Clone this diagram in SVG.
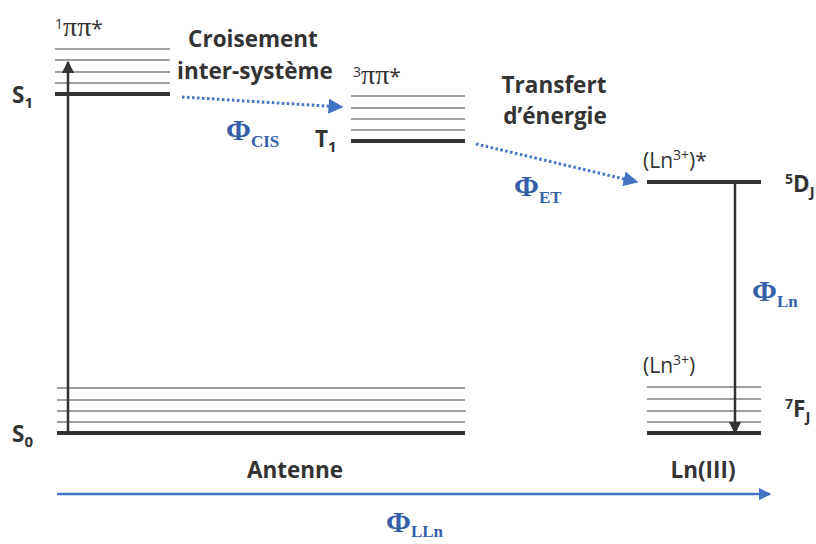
<svg xmlns="http://www.w3.org/2000/svg" width="816" height="544" viewBox="0 0 816 544">
<style>
.thin{stroke:#808080;stroke-width:1.6;fill:none}
.thick{stroke:#333333;stroke-width:4;fill:none}
.lbl{font-family:"Open Sans","Liberation Sans",sans-serif;font-weight:bold;fill:#333333;font-size:22.5px}
.st{font-family:"Open Sans","Liberation Sans",sans-serif;fill:#333333;font-size:21px}
.phi{font-family:"Liberation Serif",serif;font-weight:bold;fill:#3560a8;font-size:30px}
.sub{font-size:15px}
.psub{font-size:17px}
.pi{font-family:"Liberation Serif",serif;font-size:28px}
.dot{stroke:#4472c4;stroke-width:3;stroke-dasharray:2.5 2.5;fill:none}
</style>
<defs>
<marker id="ab" viewBox="0 0 10 10" refX="9" refY="5" markerWidth="5" markerHeight="5" orient="auto" markerUnits="strokeWidth"><path d="M0,0 L10,5 L0,10 z" fill="#4472c4"/></marker>
<marker id="ak" viewBox="0 0 10 10" refX="9" refY="5" markerWidth="5" markerHeight="5" orient="auto" markerUnits="strokeWidth"><path d="M0,0 L10,5 L0,10 z" fill="#333333"/></marker>
</defs>
<g id="S1">
<line class="thin" x1="55" y1="49" x2="170" y2="49"/>
<line class="thin" x1="55" y1="60" x2="170" y2="60"/>
<line class="thin" x1="55" y1="72" x2="170" y2="72"/>
<line class="thin" x1="55" y1="83" x2="170" y2="83"/>
<line class="thick" x1="55" y1="94" x2="170" y2="94"/>
<text class="st" x="55" y="36"><tspan font-size="14" dy="-7">1</tspan><tspan class="pi" dy="7">ππ</tspan>*</text>
<text class="lbl" x="12" y="103" font-size="21">S<tspan class="sub" dy="5">1</tspan></text>
</g>
<g id="S0">
<line class="thin" x1="57" y1="388" x2="465" y2="388"/>
<line class="thin" x1="57" y1="400" x2="465" y2="400"/>
<line class="thin" x1="57" y1="411" x2="466" y2="411"/>
<line class="thin" x1="57" y1="422" x2="465" y2="422"/>
<line class="thick" x1="57" y1="433" x2="465" y2="433"/>
<text class="lbl" x="12" y="442" font-size="21">S<tspan class="sub" dy="5">0</tspan></text>
<text class="lbl" x="295" y="478" text-anchor="middle">Antenne</text>
</g>
<g id="T1">
<line class="thin" x1="351" y1="96" x2="465" y2="96"/>
<line class="thin" x1="351" y1="108" x2="465" y2="108"/>
<line class="thin" x1="351" y1="119" x2="465" y2="119"/>
<line class="thin" x1="351" y1="130" x2="465" y2="130"/>
<line class="thick" x1="351" y1="141" x2="465" y2="141"/>
<text class="st" x="353" y="84"><tspan font-size="14" dy="-7">3</tspan><tspan class="pi" dy="7">ππ</tspan>*</text>
<text class="lbl" x="315" y="147" font-size="20">T<tspan class="sub" dy="5">1</tspan></text>
</g>
<g id="LnExc">
<line class="thick" x1="647" y1="182" x2="761" y2="182"/>
<text class="st" x="643" y="168">(Ln<tspan font-size="14" dy="-8">3+</tspan><tspan dy="8">)*</tspan></text>
<text class="lbl" x="785" y="192" font-size="21"><tspan font-size="14" dy="-8">5</tspan><tspan dy="8">D</tspan><tspan class="sub" dy="5">J</tspan></text>
</g>
<g id="LnGround">
<line class="thin" x1="647" y1="387" x2="761" y2="387"/>
<line class="thin" x1="647" y1="399" x2="761" y2="399"/>
<line class="thin" x1="647" y1="411" x2="761" y2="411"/>
<line class="thin" x1="647" y1="422" x2="761" y2="422"/>
<line class="thick" x1="647" y1="433" x2="761" y2="433"/>
<text class="st" x="643" y="373">(Ln<tspan font-size="14" dy="-8">3+</tspan><tspan dy="8">)</tspan></text>
<text class="lbl" x="785" y="417" font-size="21"><tspan font-size="14" dy="-8">7</tspan><tspan dy="8">F</tspan><tspan class="sub" dy="5">J</tspan></text>
<text class="lbl" x="703" y="478" text-anchor="middle">Ln(III)</text>
</g>
<g id="connectors">
<line x1="68" y1="433" x2="68" y2="62" stroke="#333333" stroke-width="2.5" marker-end="url(#ak)"/>
<line class="dot" x1="182" y1="97" x2="342" y2="107" marker-end="url(#ab)"/>
<line class="dot" x1="476" y1="144" x2="637" y2="182" marker-end="url(#ab)"/>
<line x1="735" y1="183" x2="735" y2="433" stroke="#333333" stroke-width="2.5" marker-end="url(#ak)"/>
<line x1="57" y1="494" x2="770" y2="494" stroke="#4472c4" stroke-width="2.5" marker-end="url(#ab)"/>
</g>
<g id="labels">
<text class="lbl" x="253" y="47" text-anchor="middle">Croisement</text>
<text class="lbl" x="255" y="79" text-anchor="middle">inter-système</text>
<text class="lbl" x="554" y="93" text-anchor="middle">Transfert</text>
<text class="lbl" x="555" y="124" text-anchor="middle">d’énergie</text>
<text class="phi" x="226" y="140">Φ<tspan class="psub" dy="7">CIS</tspan></text>
<text class="phi" x="514" y="196">Φ<tspan class="psub" dy="7">ET</tspan></text>
<text class="phi" x="752" y="301">Φ<tspan class="psub" dy="6">Ln</tspan></text>
<text class="phi" x="386" y="532">Φ<tspan class="psub" dy="5">LLn</tspan></text>
</g>
</svg>
